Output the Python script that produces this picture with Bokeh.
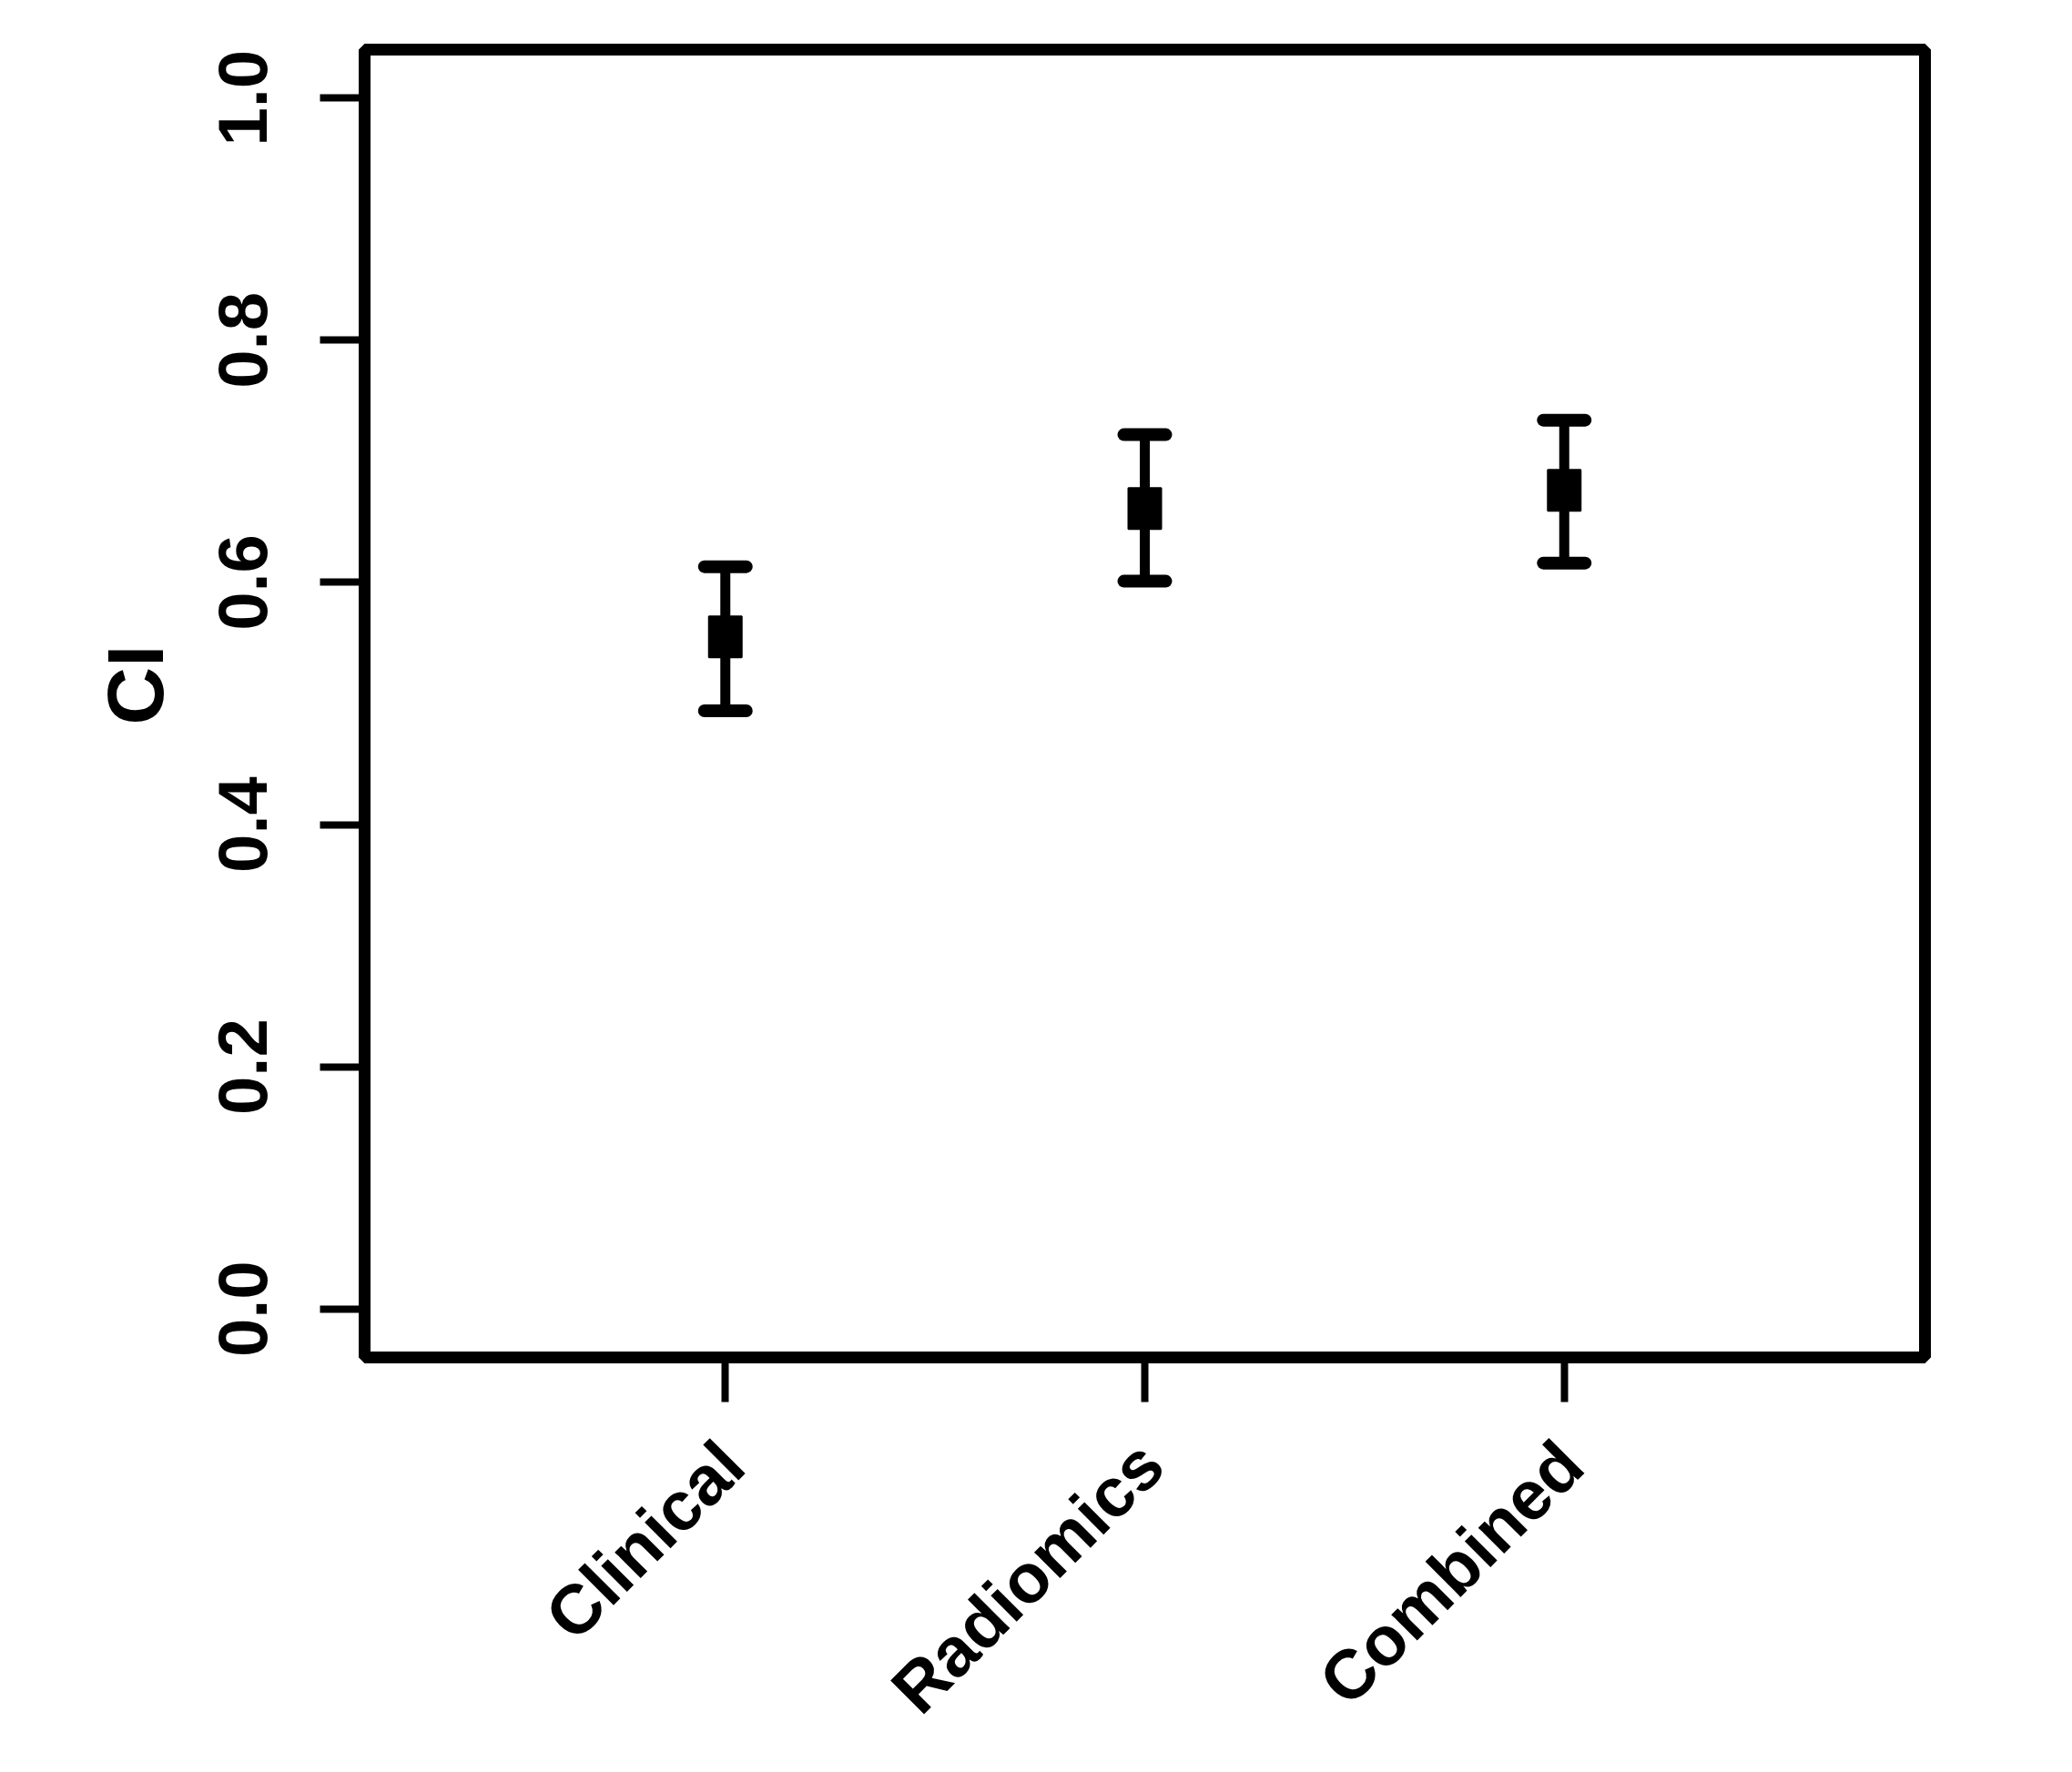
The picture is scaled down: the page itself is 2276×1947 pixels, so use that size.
from bokeh.plotting import figure
from bokeh.models import (Range1d, FixedTicker, Whisker, TeeHead, ColumnDataSource, LinearAxis, Title)
from bokeh.embed import file_html
from bokeh.resources import INLINE
import math

categories = ["Clinical", "Radiomics", "Combined"]
ci_mean = [0.555, 0.661, 0.676]
ci_lower = [0.494, 0.601, 0.616]
ci_upper = [0.613, 0.722, 0.734]
yticks = [0.0, 0.2, 0.4, 0.6, 0.8, 1.0]
ytick_labels = ["0.0", "0.2", "0.4", "0.6", "0.8", "1.0"]
y_label = "CI"
Y_MIN, Y_MAX = -0.04, 1.04

FONT = "Liberation Sans"
FRAME_W = 1714
xpos = list(range(1, len(categories) + 1))
X_MIN, X_MAX = 0.14, len(categories) + 0.86
# slanted labels sit a little to the right of their ticks (screen px)
LABEL_SHIFT_PX = 7
shift = LABEL_SHIFT_PX * (X_MAX - X_MIN) / FRAME_W

src = ColumnDataSource(dict(x=xpos, cat=categories, mean=ci_mean, lower=ci_lower, upper=ci_upper))

p = figure(
    width=2260, height=1931,
    x_range=Range1d(X_MIN, X_MAX), y_range=Range1d(Y_MIN, Y_MAX),
    output_backend="svg", toolbar_location=None,
    min_border_left=400, min_border_right=146, min_border_top=54, min_border_bottom=438,
)
p.background_fill_color = "white"
p.border_fill_color = "white"
p.outline_line_color = "black"
p.outline_line_width = 13
p.xgrid.visible = False
p.ygrid.visible = False

p.yaxis.ticker = FixedTicker(ticks=yticks)
p.yaxis.major_label_overrides = {t: l for t, l in zip(yticks, ytick_labels)}
p.yaxis.major_label_orientation = "vertical"

p.xaxis.ticker = FixedTicker(ticks=xpos)
p.xaxis.major_label_overrides = {x: "" for x in xpos}

for ax in (p.xaxis[0], p.yaxis[0]):
    ax.axis_line_color = None
    ax.major_tick_line_color = "black"
    ax.major_tick_line_width = 8
    ax.major_tick_in = 0
    ax.major_tick_out = 49
    ax.minor_tick_line_color = None
    ax.major_label_text_font = FONT
    ax.major_label_text_font_style = "bold"
    ax.major_label_text_font_size = "76px"
    ax.major_label_text_color = "black"
p.yaxis.major_label_standoff = 58
p.xaxis.major_label_standoff = 0
p.xaxis.major_label_text_font_size = "0px"

# y-axis title, placed slightly above the frame's centre as in the original
p.add_layout(Title(text=y_label, align="right", offset=654, standoff=80,
                   text_font=FONT, text_font_style="bold", text_font_size="88px",
                   text_color="black"), "left")

p.extra_x_ranges = {"labels": Range1d(X_MIN - shift, X_MAX - shift)}
lab_axis = LinearAxis(
    x_range_name="labels", ticker=FixedTicker(ticks=xpos),
    major_label_overrides={x: c for x, c in zip(xpos, categories)},
    major_label_orientation=math.pi / 4, major_label_standoff=56,
    major_tick_in=0, major_tick_out=0, major_tick_line_color=None,
    minor_tick_line_color=None, axis_line_color=None,
    major_label_text_font=FONT, major_label_text_font_style="bold",
    major_label_text_font_size="76px", major_label_text_color="black",
)
p.add_layout(lab_axis, "below")

w = Whisker(source=src, base="x", lower="lower", upper="upper", dimension="height",
            line_color="black", line_width=11, line_cap="round",
            upper_head=TeeHead(size=46, line_width=14, line_color="black", line_cap="round"),
            lower_head=TeeHead(size=46, line_width=14, line_color="black", line_cap="round"))
p.add_layout(w)

p.rect(x="x", y="mean", width=36, height=45, width_units="screen", height_units="screen",
       source=src, fill_color="black", line_color="black", line_width=2)

open("out.html", "w").write(file_html(p, INLINE))
